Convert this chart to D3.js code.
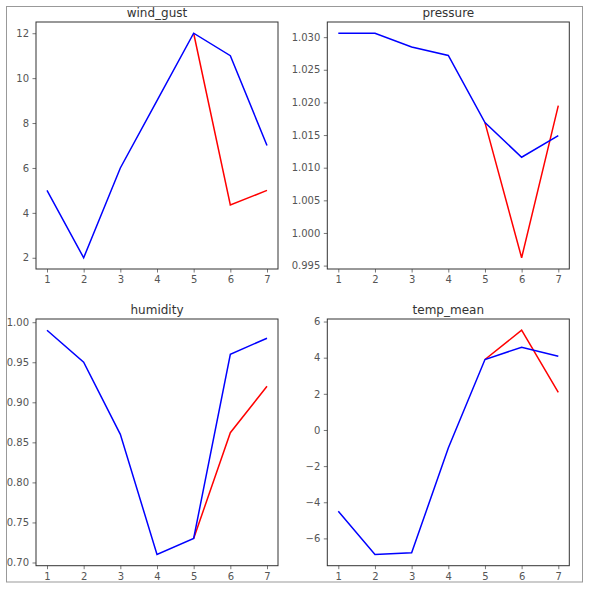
<!DOCTYPE html>
<html>
<head>
<meta charset="utf-8">
<script src="https://cdn.jsdelivr.net/npm/d3@7"></script>
<style>
  html, body { margin: 0; padding: 0; background: #fff; }
  svg { display: block; font-family: "DejaVu Sans", sans-serif; }
</style>
</head>
<body>
<svg id="chart" width="590" height="590"></svg>
<script>
// ---- data ----
const days = [1, 2, 3, 4, 5, 6, 7];
const forecastDays = [5, 6, 7];

const windGustActual = [5, 2, 6, 9, 12, 11, 7];
const windGustForecast = [12, 4.35, 5];

const pressureActual = [1.0306, 1.0306, 1.0285, 1.0272, 1.0169, 1.0116, 1.0149];
const pressureForecast = [1.0169, 0.9962, 1.0195];

const humidityActual = [0.99, 0.95, 0.86, 0.71, 0.73, 0.96, 0.98];
const humidityForecast = [0.73, 0.862, 0.92];

const tempMeanActual = [-4.5, -6.89, -6.8, -1.0, 3.9, 4.58, 4.08];
const tempMeanForecast = [3.9, 5.52, 2.08];

const windGustTicks = [2, 4, 6, 8, 10, 12];
const pressureTicks = [0.995, 1.000, 1.005, 1.010, 1.015, 1.020, 1.025, 1.030];
const humidityTicks = [0.70, 0.75, 0.80, 0.85, 0.90, 0.95, 1.00];
const tempMeanTicks = [-6, -4, -2, 0, 2, 4, 6];

const titles = ["wind_gust", "pressure", "humidity", "temp_mean"];

// ---- layout ----
const svg = d3.select("#chart");
const defs = svg.append("defs");
defs.append("clipPath").attr("id", "figclip")
  .append("rect").attr("x", 6).attr("y", 6).attr("width", 577).attr("height", 576);

const root = svg.append("g").attr("clip-path", "url(#figclip)");

const panels = [
  { title: titles[0], actual: windGustActual, forecast: windGustForecast, ticks: windGustTicks, fmt: d3.format("d"),
    x0: 36, x1: 278, y0: 22, y1: 269 },
  { title: titles[1], actual: pressureActual, forecast: pressureForecast, ticks: pressureTicks, fmt: d3.format(".3f"),
    x0: 327.3, x1: 569.3, y0: 22, y1: 269 },
  { title: titles[2], actual: humidityActual, forecast: humidityForecast, ticks: humidityTicks, fmt: d3.format(".2f"),
    x0: 36, x1: 278, y0: 319, y1: 565.7 },
  { title: titles[3], actual: tempMeanActual, forecast: tempMeanForecast, ticks: tempMeanTicks,
    fmt: v => (v < 0 ? "\u2212" + Math.abs(v) : String(v)),
    x0: 327.3, x1: 569.3, y0: 319, y1: 565.7 }
];

panels.forEach(p => {
  const all = p.actual.concat(p.forecast);
  const mn = d3.min(all), mx = d3.max(all);
  const m = (mx - mn) * 0.05;
  const x = d3.scaleLinear().domain([0.7, 7.3]).range([p.x0, p.x1]);
  const y = d3.scaleLinear().domain([mn - m, mx + m]).range([p.y1, p.y0]);

  const g = root.append("g");

  // x axis
  const xa = g.append("g").attr("transform", `translate(0,${p.y1})`)
    .call(d3.axisBottom(x).tickValues(days).tickFormat(d3.format("d")).tickSizeOuter(0).tickSize(3.5).tickPadding(3.5));
  // y axis
  const ya = g.append("g").attr("transform", `translate(${p.x0},0)`)
    .call(d3.axisLeft(y).tickValues(p.ticks).tickFormat(p.fmt).tickSizeOuter(0).tickSize(3.5).tickPadding(3.5));
  [xa, ya].forEach(a => {
    a.select(".domain").remove();
    a.selectAll(".tick line").attr("stroke", "#555").attr("stroke-width", 0.8);
    a.selectAll(".tick text").attr("fill", "#555").style("font-size", "10px")
      .style("font-family", "'DejaVu Sans', sans-serif");
  });

  // lines
  const lineA = d3.line().x((d, i) => x(days[i])).y(d => y(d));
  const lineF = d3.line().x((d, i) => x(forecastDays[i])).y(d => y(d));
  g.append("path").datum(p.forecast).attr("d", lineF)
    .attr("fill", "none").attr("stroke", "#ff0000").attr("stroke-width", 1.5);
  g.append("path").datum(p.actual).attr("d", lineA)
    .attr("fill", "none").attr("stroke", "#0000ff").attr("stroke-width", 1.5);

  // spines
  g.append("rect").attr("x", p.x0).attr("y", p.y0)
    .attr("width", p.x1 - p.x0).attr("height", p.y1 - p.y0)
    .attr("fill", "none").attr("stroke", "#333").attr("stroke-width", 1);

  // title
  g.append("text").attr("x", (p.x0 + p.x1) / 2).attr("y", p.y0 - 5.5)
    .attr("text-anchor", "middle").attr("fill", "#333")
    .style("font-size", "12px").text(p.title);
});

// figure frame
svg.append("rect").attr("x", 6.5).attr("y", 6.5).attr("width", 576).attr("height", 575.5)
  .attr("fill", "none").attr("stroke", "#999").attr("stroke-width", 1);
</script>
</body>
</html>
